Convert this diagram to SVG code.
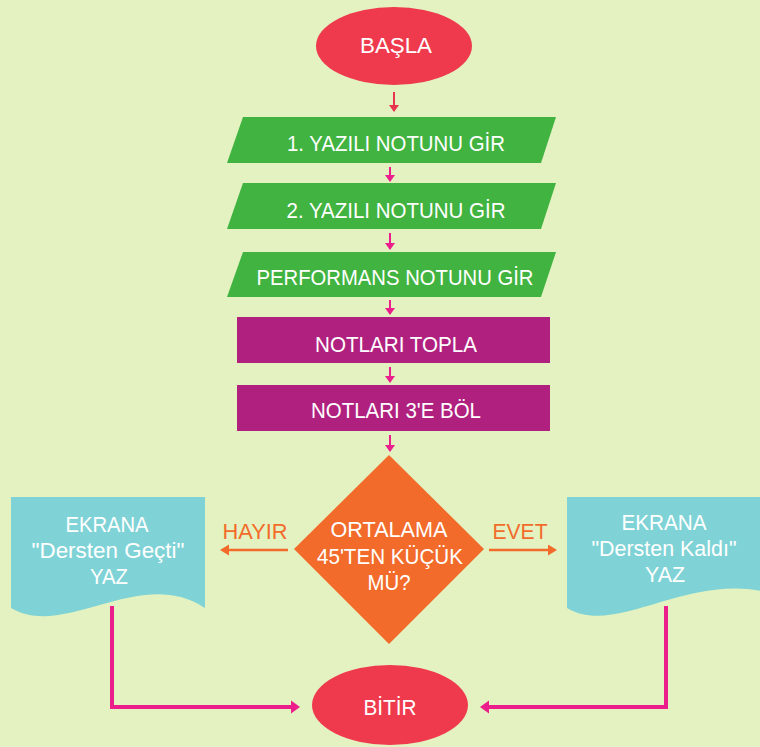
<svg xmlns="http://www.w3.org/2000/svg" width="760" height="747" viewBox="0 0 760 747">
<defs>
<style>
.t{fill:#ffffff;font-family:"Liberation Sans",Arial,sans-serif;font-size:22.5px;text-anchor:middle;}
.lbl{fill:#f26b2b;font-family:"Liberation Sans",Arial,sans-serif;font-size:22.5px;text-anchor:middle;}
.term{fill:#ef3a4e;}
.io{fill:#41b340;}
.proc{fill:#b0217f;}
.dec{fill:#f26b2b;}
.doc{fill:#7fd3d6;}
.pk{stroke:#ec1e8c;stroke-width:2;fill:none;}
.pkb{stroke:#ec1e8c;stroke-width:4;fill:none;}
.rd{stroke:#e8344e;stroke-width:2;fill:none;}
.or{stroke:#f26b2b;stroke-width:2.5;fill:none;}
</style>
<marker id="mpk" markerUnits="userSpaceOnUse" markerWidth="8" markerHeight="10" refX="6" refY="5" orient="auto"><path d="M0,0 L7,5 L0,10 z" fill="#ec1e8c"/></marker>
<marker id="mrd" markerUnits="userSpaceOnUse" markerWidth="8" markerHeight="10" refX="6" refY="5" orient="auto"><path d="M0,0 L7,5 L0,10 z" fill="#e8344e"/></marker>
<marker id="mpkb" markerUnits="userSpaceOnUse" markerWidth="10" markerHeight="14" refX="1" refY="7" orient="auto"><path d="M0,0.5 L9,7 L0,13.5 z" fill="#ec1e8c"/></marker>
<marker id="mor" markerUnits="userSpaceOnUse" markerWidth="10" markerHeight="12" refX="1" refY="5.5" orient="auto"><path d="M0,0 L9,5.5 L0,11 z" fill="#f26b2b"/></marker>
</defs>
<rect width="760" height="747" fill="#e3f2c0"/>

<g id="connectors">
<line class="rd" x1="394" y1="92" x2="394" y2="111" marker-end="url(#mrd)"/>
<line class="pk" x1="390" y1="167" x2="390" y2="181" marker-end="url(#mpk)"/>
<line class="pk" x1="390" y1="233" x2="390" y2="249" marker-end="url(#mpk)"/>
<line class="pk" x1="390" y1="300" x2="390" y2="314" marker-end="url(#mpk)"/>
<line class="pk" x1="390" y1="367" x2="390" y2="382" marker-end="url(#mpk)"/>
<line class="pk" x1="390" y1="435" x2="390" y2="451" marker-end="url(#mpk)"/>
<line class="or" x1="288" y1="550" x2="228" y2="550" marker-end="url(#mor)"/>
<line class="or" x1="489" y1="550" x2="549" y2="550" marker-end="url(#mor)"/>
<polyline class="pkb" points="112,606 112,707 292,707" marker-end="url(#mpkb)"/>
<polyline class="pkb" points="666,606 666,707 488,707" marker-end="url(#mpkb)"/>
</g>

<g id="basla">
<ellipse class="term" cx="394" cy="46" rx="78" ry="39"/>
<text class="t" x="396" y="53" textLength="72" lengthAdjust="spacingAndGlyphs">BAŞLA</text>
</g>

<g id="yazili1">
<polygon class="io" points="243,117 556,117 541,163 227,163"/>
<text class="t" x="396" y="151" textLength="218" lengthAdjust="spacingAndGlyphs">1. YAZILI NOTUNU GİR</text>
</g>

<g id="yazili2">
<polygon class="io" points="243,183 556,183 541,229 227,229"/>
<text class="t" x="396" y="218" textLength="219" lengthAdjust="spacingAndGlyphs">2. YAZILI NOTUNU GİR</text>
</g>

<g id="performans">
<polygon class="io" points="243,252 556,252 541,297 227,297"/>
<text class="t" x="395" y="285" textLength="277" lengthAdjust="spacingAndGlyphs">PERFORMANS NOTUNU GİR</text>
</g>

<g id="topla">
<rect class="proc" x="237" y="317" width="313" height="46"/>
<text class="t" x="396" y="352" textLength="162" lengthAdjust="spacingAndGlyphs">NOTLARI TOPLA</text>
</g>

<g id="bol">
<rect class="proc" x="237" y="385" width="313" height="46"/>
<text class="t" x="396" y="418" textLength="170" lengthAdjust="spacingAndGlyphs">NOTLARI 3'E BÖL</text>
</g>

<g id="karar">
<polygon class="dec" points="389,455 484,549 389,644 294,549"/>
<text class="t" x="389" y="537" textLength="117" lengthAdjust="spacingAndGlyphs">ORTALAMA</text>
<text class="t" x="390" y="564" textLength="146" lengthAdjust="spacingAndGlyphs">45'TEN KÜÇÜK</text>
<text class="t" x="389" y="590" textLength="43" lengthAdjust="spacingAndGlyphs">MÜ?</text>
</g>

<g id="hayir">
<text class="lbl" x="255" y="539" textLength="65" lengthAdjust="spacingAndGlyphs">HAYIR</text>
</g>

<g id="evet">
<text class="lbl" x="520" y="539" textLength="55" lengthAdjust="spacingAndGlyphs">EVET</text>
</g>

<g id="gecti">
<path class="doc" d="M11,497 H205 V608 C140,565 65,640 11,608 Z"/>
<text class="t" x="107" y="532" textLength="83" lengthAdjust="spacingAndGlyphs">EKRANA</text>
<text class="t" x="108" y="558" textLength="153" lengthAdjust="spacingAndGlyphs">"Dersten Geçti"</text>
<text class="t" x="109" y="584" textLength="38" lengthAdjust="spacingAndGlyphs">YAZ</text>
</g>

<g id="kaldi">
<path class="doc" d="M567,497 H790 V600 C700,560 620,640 567,608 Z"/>
<text class="t" x="664" y="530" textLength="85" lengthAdjust="spacingAndGlyphs">EKRANA</text>
<text class="t" x="664" y="556" textLength="145" lengthAdjust="spacingAndGlyphs">"Dersten Kaldı"</text>
<text class="t" x="665" y="582" textLength="40" lengthAdjust="spacingAndGlyphs">YAZ</text>
</g>

<g id="bitir">
<ellipse class="term" cx="390" cy="705" rx="78" ry="40"/>
<text class="t" x="390" y="715" textLength="53" lengthAdjust="spacingAndGlyphs">BİTİR</text>
</g>
</svg>
